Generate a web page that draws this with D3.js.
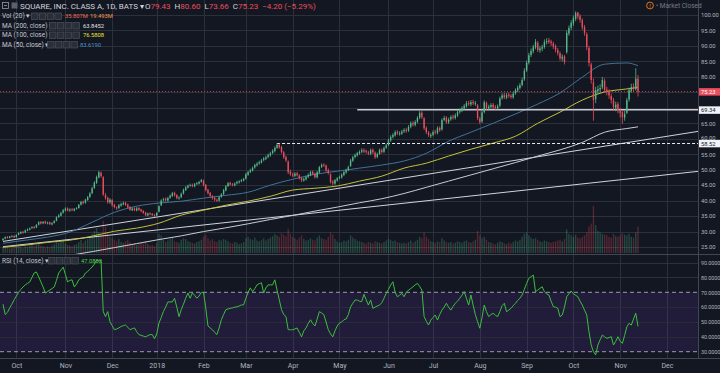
<!DOCTYPE html>
<html>
<head>
<meta charset="utf-8">
<script src="https://cdnjs.cloudflare.com/ajax/libs/d3/7.8.5/d3.min.js"></script>
<style>
  html, body { margin: 0; padding: 0; background: #131722; overflow: hidden; }
  svg { display: block; font-family: Roboto, "Liberation Sans", Arial, sans-serif; }
</style>
</head>
<body>
<div id="chart"></div>
<script>
// Daily bars (one value per trading day)
const opens = [27.2,27.7,28.3,27.9,28.3,28.6,28.2,29.0,29.4,29.9,
29.7,30.3,30.6,31.1,31.5,31.3,32.2,33.1,32.7,33.2,
32.6,33.0,32.3,32.8,33.5,34.7,35.1,36.1,36.8,37.5,
36.7,37.2,36.8,37.4,37.6,38.7,39.6,39.3,40.2,41.2,
42.4,44.1,45.7,47.5,49.0,47.5,41.8,40.9,39.4,40.2,
38.6,37.8,37.6,38.4,38.8,39.3,38.7,37.9,36.9,37.5,
36.8,37.6,37.1,36.7,36.1,35.2,35.9,35.7,35.4,35.2,
36.4,38.5,40.1,40.6,40.0,40.9,41.5,42.5,41.8,40.7,
41.1,42.3,43.4,44.2,44.9,45.1,44.6,45.4,45.5,46.1,
46.4,45.1,43.5,42.5,41.4,40.9,40.2,40.0,41.2,42.1,
43.3,44.7,45.7,45.3,44.9,45.6,45.9,46.3,46.5,47.1,
48.4,49.3,49.7,50.7,51.4,52.0,52.3,53.1,53.5,54.1,
54.6,55.4,56.0,57.1,58.1,57.3,55.6,54.1,52.6,49.4,
48.4,48.0,48.8,48.1,47.3,46.5,46.9,47.7,48.2,49.3,
48.7,47.5,49.1,50.9,51.6,51.3,49.9,48.5,46.1,45.5,
46.5,47.3,47.5,48.3,49.1,49.9,51.2,52.9,54.1,54.6,
55.2,55.8,56.4,56.0,55.6,55.1,56.4,55.5,54.1,55.1,
56.4,55.8,57.1,58.0,59.4,60.6,61.1,62.2,61.5,61.7,
62.4,62.9,62.6,63.9,65.1,64.5,65.5,66.8,68.4,66.6,
63.5,62.0,60.8,61.3,62.3,61.9,63.5,63.0,66.1,66.8,
65.3,66.3,67.2,66.7,67.5,68.7,69.1,69.8,70.5,71.6,
71.1,71.9,71.2,70.8,66.5,65.6,68.7,71.6,69.8,70.3,
71.0,70.3,69.8,70.7,73.1,74.1,73.3,74.3,73.9,73.4,
74.7,75.6,76.4,77.4,79.2,82.1,84.6,87.1,88.3,89.5,
91.0,88.6,89.1,89.7,91.2,91.8,91.4,90.8,89.9,88.6,
87.6,85.9,86.6,88.0,94.0,95.9,97.3,98.8,100.8,99.6,
98.3,96.1,93.8,89.4,84.0,78.2,72.8,75.4,75.9,76.6,
78.8,75.9,75.3,73.8,72.4,70.0,71.2,69.0,68.5,66.8,
68.4,72.7,75.5,76.9,76.0,79.43];

const highs = [27.9,28.4,28.5,28.6,28.8,28.8,29.1,29.7,30.1,30.2,
30.6,31.0,31.3,31.7,31.8,32.4,33.3,33.4,33.4,33.5,
33.2,33.2,33.0,33.7,34.9,35.6,36.4,37.3,37.8,37.8,
37.5,37.6,37.6,37.9,38.9,39.9,40.0,40.6,41.5,42.7,
44.5,46.3,48.1,49.6,49.4,47.9,42.5,41.3,40.8,40.5,
39.0,38.2,38.9,39.3,39.7,39.6,39.0,38.2,37.8,37.8,
37.9,37.9,37.4,36.9,36.4,36.1,36.2,36.0,35.7,36.3,
38.5,40.4,40.9,41.0,41.2,42.0,42.8,42.9,42.1,41.4,
42.6,43.9,44.7,45.2,45.5,45.5,45.7,46.0,46.4,47.0,
46.8,45.4,43.8,42.8,41.8,41.2,40.7,41.5,42.4,43.8,
45.0,46.0,46.1,45.7,45.9,46.4,46.6,47.0,47.4,48.9,
49.6,50.3,51.0,51.9,52.4,52.9,53.5,54.1,54.5,55.2,
55.8,56.6,57.5,58.6,58.5,57.7,56.0,54.6,53.0,50.0,
49.0,49.2,49.3,48.5,47.7,47.5,48.0,48.8,49.6,49.7,
49.0,49.6,51.2,52.0,52.1,51.7,50.4,48.8,46.6,47.0,
47.6,48.1,48.8,49.6,50.3,51.3,53.5,54.5,55.2,55.8,
56.3,56.9,56.9,56.5,56.1,56.8,56.9,55.9,55.5,56.8,
56.9,57.5,58.4,60.0,61.1,61.8,62.7,62.8,62.4,62.9,
63.4,63.5,64.4,65.6,65.7,66.0,67.3,68.9,68.9,67.0,
64.0,62.5,61.8,62.7,62.9,64.0,64.0,66.6,67.4,67.3,
66.8,67.6,67.8,68.2,69.2,69.8,70.5,71.2,72.2,72.3,
72.5,72.6,72.2,71.2,67.1,69.0,72.4,72.0,71.0,71.5,
71.6,70.9,71.1,73.6,74.7,74.8,74.8,74.9,74.5,75.2,
76.3,77.2,78.0,79.7,82.8,85.3,87.8,89.2,90.4,92.2,
91.6,90.0,90.4,92.1,92.5,92.6,92.0,91.4,90.5,89.3,
88.2,87.3,87.0,95.0,96.6,98.3,99.8,101.2,101.0,100.3,
98.9,96.8,94.4,90.0,84.6,79.5,76.8,77.2,77.6,80.0,
79.5,76.8,76.0,74.6,73.2,72.0,71.9,70.0,69.2,69.0,
73.2,76.5,77.8,77.9,82.8,80.60];

const lows = [27.0,27.5,27.7,27.8,28.1,27.9,28.0,28.8,29.2,29.3,
29.5,30.1,30.4,30.9,30.9,31.1,32.0,32.3,32.4,32.4,
32.3,32.1,32.0,32.6,33.3,34.4,34.9,35.8,36.5,36.5,
36.4,36.6,36.5,37.1,37.4,38.4,38.8,39.0,39.9,40.9,
42.1,43.8,45.4,47.2,47.4,41.5,40.3,39.0,39.0,38.1,
37.5,37.0,37.3,38.0,38.5,38.3,37.5,36.7,36.6,36.6,
36.5,36.7,36.2,35.7,35.0,34.9,35.3,35.0,34.8,35.0,
36.2,38.2,39.7,39.7,39.7,40.6,41.2,41.3,40.4,40.3,
40.8,42.0,43.1,43.9,44.5,44.3,44.3,45.0,45.2,45.8,
44.6,43.0,42.0,41.0,40.3,39.8,39.6,39.7,40.9,41.8,
43.0,44.4,44.8,44.6,44.6,45.2,45.5,45.9,46.2,46.8,
48.0,48.9,49.4,50.3,51.0,51.6,52.0,52.7,53.1,53.7,
54.2,55.0,55.6,56.7,56.8,55.2,53.5,52.5,48.6,48.0,
47.6,47.6,47.8,46.8,46.0,46.1,46.5,47.3,47.9,48.2,
47.1,47.2,48.8,50.5,50.9,49.3,48.4,45.5,45.0,45.1,
46.1,46.9,47.1,47.9,48.7,49.5,50.9,52.5,53.6,54.2,
54.8,55.3,55.4,55.2,54.7,54.7,55.1,53.5,53.7,54.8,
55.2,55.4,56.7,57.6,59.0,60.1,60.7,61.2,61.0,61.2,
61.9,61.9,62.2,63.4,64.0,64.0,65.0,66.3,66.4,62.8,
61.5,60.6,60.2,60.8,61.4,61.4,62.2,62.6,65.6,64.8,
64.8,65.8,66.2,66.2,67.0,68.1,68.6,69.3,70.0,70.6,
70.5,70.9,70.6,66.0,64.7,65.1,68.2,69.3,69.2,69.8,
69.6,69.3,69.3,70.2,72.6,72.8,72.8,73.2,72.9,72.9,
74.2,75.1,75.9,76.9,78.7,81.6,84.0,86.4,87.6,88.9,
88.0,87.8,88.3,89.1,90.5,90.6,90.0,89.0,87.9,86.9,
85.2,85.0,84.0,87.5,93.3,95.1,96.5,98.0,98.6,97.5,
95.2,93.3,88.6,83.4,77.8,65.8,71.5,74.4,74.9,76.0,
74.8,74.0,72.9,71.4,69.0,68.9,68.2,66.8,64.8,65.8,
68.0,72.0,74.9,75.3,75.6,73.66];

const closes = [27.6,28.2,27.9,28.4,28.5,28.1,28.9,29.5,29.8,29.6,
30.4,30.7,31.0,31.4,31.2,32.1,33.0,32.6,33.1,32.7,
32.9,32.4,32.7,33.4,34.6,35.2,36.0,36.9,37.4,36.8,
37.1,36.9,37.3,37.5,38.6,39.5,39.2,40.3,41.1,42.3,
44.0,45.8,47.6,49.2,47.9,42.0,40.8,39.5,40.3,38.5,
37.9,37.5,38.5,38.9,39.2,38.6,37.8,37.0,37.4,36.9,
37.5,37.0,36.6,36.0,35.3,35.8,35.6,35.3,35.1,36.0,
38.2,40.0,40.4,40.1,40.8,41.6,42.4,41.7,40.8,41.0,
42.2,43.5,44.3,44.8,45.0,44.7,45.3,45.6,46.0,46.6,
45.0,43.4,42.4,41.5,40.8,40.3,40.1,41.1,42.0,43.4,
44.6,45.6,45.2,45.0,45.5,46.0,46.2,46.6,47.0,48.5,
49.2,49.8,50.6,51.5,51.9,52.4,53.0,53.6,54.0,54.7,
55.3,56.1,57.0,58.0,57.2,55.7,54.0,53.0,49.2,48.5,
48.2,48.7,48.2,47.2,46.6,47.0,47.6,48.3,49.2,48.6,
47.6,49.2,50.8,51.5,51.4,49.8,48.9,46.0,45.6,46.6,
47.2,47.6,48.4,49.2,49.8,50.8,53.0,54.0,54.7,55.3,
55.7,56.3,55.9,55.7,55.2,56.3,55.6,54.0,55.0,56.3,
55.7,57.0,57.9,59.5,60.5,61.2,62.1,61.8,61.8,62.3,
62.8,62.5,63.8,65.0,64.6,65.4,66.7,68.3,67.0,63.4,
62.1,61.2,61.2,62.1,62.0,63.4,62.8,66.0,66.7,65.4,
66.2,67.0,66.8,67.6,68.6,69.2,69.9,70.6,71.5,71.2,
71.8,71.5,71.5,66.7,65.4,68.5,71.8,69.9,70.4,70.9,
70.2,69.9,70.5,73.0,74.0,73.4,74.1,73.8,73.5,74.6,
75.7,76.5,77.3,79.0,82.0,84.5,87.0,88.4,89.6,91.3,
88.7,89.2,89.6,91.3,91.6,91.3,90.9,89.8,88.7,87.7,
86.0,86.5,84.8,94.2,95.8,97.4,99.0,100.6,99.5,98.4,
96.0,94.2,89.6,84.5,79.0,72.5,75.7,76.0,76.4,79.0,
75.7,75.1,74.0,72.5,70.2,71.0,69.3,68.3,67.0,68.0,
72.5,75.7,76.7,76.2,79.4,75.23];

// Volume, millions
const volumes = [8,7,9,6,7,8,10,9,8,7,
9,8,10,12,9,11,14,10,9,8,
9,8,10,12,15,14,16,18,13,11,
10,9,11,12,15,18,14,17,19,22,
26,30,34,28,25,44,36,27,22,20,
18,16,19,15,14,16,18,15,12,13,
11,12,14,13,16,12,10,11,9,14,
26,24,18,15,17,19,21,16,15,14,
18,20,19,16,15,14,13,15,16,18,
22,25,20,17,19,16,15,18,17,19,
18,16,14,13,15,14,12,13,15,20,
22,19,18,21,17,16,18,20,17,19,
21,23,26,24,22,27,25,23,33,26,
22,20,18,21,24,19,17,18,20,18,
17,21,24,20,19,18,22,28,25,19,
16,14,15,17,16,18,24,21,19,17,
16,15,14,13,15,14,13,16,15,14,
13,15,17,19,18,16,17,15,14,13,
14,13,15,17,14,16,18,22,20,28,
22,19,16,15,14,16,15,20,17,15,
14,15,13,14,16,15,14,16,17,15,
14,16,18,30,24,20,22,18,15,14,
13,12,14,16,15,13,12,14,13,15,
17,16,18,22,26,28,24,21,19,20,
18,16,15,17,16,15,14,15,16,17,
18,16,19,32,26,24,22,25,21,20,
22,24,28,36,40,64,38,30,28,26,
25,24,22,21,26,23,22,24,27,25,
24,26,22,21,28,35.807];

// RSI (14, close) as drawn in the lower pane
const rsiValues = [62,55,56.5,59.5,62,65,67.5,70,72,73.6,
75,76,77,80,83,83.7,80.4,77,73.6,69.5,
70.5,71.5,72.5,73.6,78,83,85,87,82,77,
78,78.4,73.6,75.5,78.4,79.5,80.4,83,84,85.5,
87,89,91.6,91,91.6,57,53.6,57,50.2,47.5,
44.8,45.3,46,47,47.5,48,46.5,44.8,45.5,46,
43.5,41.5,41,40.5,40,40.8,41.5,41.5,38.7,42,
49.3,53,57,60,63.5,63.5,63.5,66,60,53.6,
58.3,62,66,69.5,66,69.5,68,66,67.5,70,
70,59.5,47.3,46,44.8,43,41.5,46,51.5,55,
58.3,58.8,59.2,59.5,60,60.2,60.8,61.5,61.5,66,
70,73,70.4,72.5,75,75.8,76.4,69.5,73,75,
75,75,78.4,71.5,65,58.3,55,53.6,44.8,44.8,
44.8,45.3,46,43,40,44,46,49,51.5,49,
47.3,52,57,56,55,50,44.8,42,40,44,
47.3,49.3,50,51.5,52,55,60.2,62.6,64.8,64.8,
64,63.7,68.6,65,61.4,64.8,59.2,60,60.8,61.4,
63,66,69.3,72,74.9,77.1,70,67,68,69.3,
67,70,71.5,72.5,73.7,75,76,74,71.5,53.6,
50.5,48,51.3,53,54.7,51.3,55,58,60,62.6,
60,58,60.5,62.6,64,66,68,70.4,66,61.4,
68.2,61.4,55,50.2,45.8,53,61.4,57,53.6,55,
55.9,54.5,53.6,57,61,62.6,56.9,58,59.2,61,
62.6,64.5,66,68.2,72,76,79.4,80.5,81.6,70.4,
71.5,72.7,73.7,70.4,69,68.2,64,60.3,60,59.2,
53.6,54.7,60,67,69,70.9,69,68,67,64,
61.4,58,54.7,43.5,34.5,30,27.8,34.5,38,41.2,
40,39,39.5,40.1,34.5,37,40.1,37,35.6,41,
46.8,49.1,47.9,52,55.9,47.08];

// Moving averages read at every 10th bar
const maIndex = [0,10,20,30,40,50,60,70,80,90,100,110,120,130,140,150,160,170,180,190,200,210,220,230,240,250,260,270,280,285];
const ma50 = [26.2,27.2,28.2,29.8,33.0,36.2,38.2,39.2,39.8,40.8,41.7,42.7,45.0,46.9,48.5,49.5,50.5,51.5,52.8,55.3,59.2,62.1,65.0,68.0,71.2,74.8,79.9,84.1,84.5,83.62];
const ma100 = [24.9,25.6,26.5,27.2,28.5,30.1,31.1,32.7,35.3,36.9,38.5,39.8,41.4,43.4,44.0,44.7,46.3,47.9,50.5,52.1,54.4,56.6,58.6,60.8,65.0,68.6,72.5,75.1,76.1,76.58];
const ma200 = [18.4,19.7,21.0,22.3,23.5,24.8,26.1,27.4,28.6,30.0,31.2,32.5,33.9,35.2,36.6,37.9,39.3,40.6,42.3,44.3,46.3,48.3,50.3,52.3,54.4,56.4,58.8,62.1,63.3,63.85];

// Drawn trend lines [barIndex, price] and horizontal levels
const trendA = [[0, 26.8], [285, 59.3]];
const trendB = [[0, 25.1], [285, 47.35]];
const levelPrices = [69.34, 58.52];
const levelStart = [159, 123];
const lastPrice = 75.23;

// Axis ticks
const priceTicks = [25, 30, 35, 40, 45, 50, 55, 60, 65, 70, 75, 80, 85, 90, 95, 100];
const rsiTicks = [30, 40, 50, 60, 70, 80, 90];
const tickIndex = [6, 28, 49, 69, 90, 109, 130, 151, 173, 193, 214, 235, 256, 277, 298];
const tickLabels = ["Oct", "Nov", "Dec", "2018", "Feb", "Mar", "Apr", "May", "Jun", "Jul", "Aug", "Sep", "Oct", "Nov", "Dec"];

const width = 720, height = 373;
const plotRight = 698;
const priceBottom = 254, rsiTop = 255, rsiBottom = 358;

const upColor = "#53b987", downColor = "#eb4d5c";
const gridColor = "#2c303b";
const textColor = "#b2b5be";

const svg = d3.select("#chart").append("svg")
    .attr("width", width)
    .attr("height", height);

svg.append("rect").attr("width", width).attr("height", height).attr("fill", "#131722");

const defs = svg.append("defs");
defs.append("clipPath").attr("id", "priceClip")
    .append("rect").attr("x", 0).attr("y", 0).attr("width", plotRight).attr("height", priceBottom);
defs.append("clipPath").attr("id", "rsiClip")
    .append("rect").attr("x", 0).attr("y", rsiTop).attr("width", plotRight).attr("height", rsiBottom - rsiTop);

// Scales
const x = d3.scaleLinear().domain([0, closes.length - 1]).range([3, 638]);
const y = d3.scaleLinear().domain([25, 100]).range([247, 15]);
const yVol = d3.scaleLinear().domain([0, 64]).range([253, 206]);
const yRsi = d3.scaleLinear().domain([30, 70]).range([351.7, 292.3]);
const bodyW = (x(1) - x(0)) * 0.62;

// Function to draw gridlines
function drawGrid() {
    const g = svg.append("g").attr("stroke", gridColor).attr("stroke-width", 1);
    g.selectAll(".vgrid").data(tickIndex).enter().append("line")
        .attr("x1", d => Math.round(x(d)) + 0.5).attr("x2", d => Math.round(x(d)) + 0.5)
        .attr("y1", 0).attr("y2", rsiBottom);
    g.selectAll(".hgrid").data(priceTicks).enter().append("line")
        .attr("x1", 0).attr("x2", plotRight)
        .attr("y1", d => Math.round(y(d)) + 0.5).attr("y2", d => Math.round(y(d)) + 0.5);

    // RSI band between 30 and 70
    svg.append("rect")
        .attr("x", 0).attr("width", plotRight)
        .attr("y", yRsi(70)).attr("height", yRsi(30) - yRsi(70))
        .attr("fill", "#7e3fd6").attr("fill-opacity", 0.13);

    svg.append("g").attr("stroke", gridColor).attr("stroke-width", 1)
        .selectAll("line").data(rsiTicks.filter(d => d !== 30 && d !== 70)).enter().append("line")
        .attr("x1", 0).attr("x2", plotRight)
        .attr("y1", d => Math.round(yRsi(d)) + 0.5).attr("y2", d => Math.round(yRsi(d)) + 0.5)
        .attr("stroke-opacity", d => (d > 70 ? 1 : 0.8));

    svg.append("g").selectAll("line").data([70, 30]).enter().append("line")
        .attr("x1", 0).attr("x2", plotRight)
        .attr("y1", d => yRsi(d)).attr("y2", d => yRsi(d))
        .attr("stroke", "#9d97b6").attr("stroke-dasharray", "4,3").attr("stroke-width", 1);
}

// Function to draw volume bars
function drawVolume(layer) {
    layer.append("g").selectAll("rect").data(volumes).enter().append("rect")
        .attr("x", (d, i) => x(i) - bodyW / 2)
        .attr("width", bodyW)
        .attr("y", d => yVol(d))
        .attr("height", d => yVol(0) - yVol(d))
        .attr("fill", (d, i) => closes[i] >= opens[i] ? upColor : downColor)
        .attr("fill-opacity", 0.3);
}

// Function to draw trend lines, levels and moving averages
function drawOverlays(layer) {
    const xEnd = x.invert(plotRight);
    [trendA, trendB].forEach(t => {
        const slope = (t[1][1] - t[0][1]) / (t[1][0] - t[0][0]);
        const endPrice = t[0][1] + slope * (xEnd - t[0][0]);
        layer.append("line")
            .attr("x1", x(t[0][0])).attr("y1", y(t[0][1]))
            .attr("x2", plotRight).attr("y2", y(endPrice))
            .attr("stroke", "#d1d4dc").attr("stroke-width", 1);
    });

    const maLine = d3.line()
        .x(d => x(d[0]))
        .y(d => y(d[1]))
        .curve(d3.curveMonotoneX);

    layer.append("path").datum(d3.zip(maIndex, ma200))
        .attr("d", maLine).attr("fill", "none").attr("stroke", "#c9cbd1").attr("stroke-width", 1);
    layer.append("path").datum(d3.zip(maIndex, ma100))
        .attr("d", maLine).attr("fill", "none").attr("stroke", "#c3c13a").attr("stroke-width", 1);
    layer.append("path").datum(d3.zip(maIndex, ma50))
        .attr("d", maLine).attr("fill", "none").attr("stroke", "#3f7397").attr("stroke-width", 1);

    // Last price dotted line
    layer.append("line")
        .attr("x1", 0).attr("x2", plotRight)
        .attr("y1", y(lastPrice)).attr("y2", y(lastPrice))
        .attr("stroke", downColor).attr("stroke-opacity", 0.8)
        .attr("stroke-dasharray", "1,2");

    // Horizontal levels
    layer.append("line")
        .attr("x1", x(levelStart[0])).attr("x2", plotRight)
        .attr("y1", y(levelPrices[0])).attr("y2", y(levelPrices[0]))
        .attr("stroke", "#c8cad0").attr("stroke-width", 1.5);
    layer.append("line")
        .attr("x1", x(levelStart[1])).attr("x2", plotRight)
        .attr("y1", Math.round(y(levelPrices[1])) + 0.5).attr("y2", Math.round(y(levelPrices[1])) + 0.5)
        .attr("stroke", "#e8e9ed").attr("stroke-width", 1)
        .attr("stroke-dasharray", "3,2");
}

// Function to draw the candles
function drawCandles(layer) {
    const idx = d3.range(closes.length);
    const color = i => closes[i] >= opens[i] ? upColor : downColor;

    layer.append("g").selectAll("line").data(idx).enter().append("line")
        .attr("x1", i => x(i)).attr("x2", i => x(i))
        .attr("y1", i => y(highs[i])).attr("y2", i => y(lows[i]))
        .attr("stroke", color).attr("stroke-width", 0.8);

    layer.append("g").selectAll("rect").data(idx).enter().append("rect")
        .attr("x", i => x(i) - bodyW / 2)
        .attr("width", bodyW)
        .attr("y", i => y(Math.max(opens[i], closes[i])))
        .attr("height", i => Math.max(0.8, Math.abs(y(opens[i]) - y(closes[i]))))
        .attr("fill", color);
}

// Function to draw the RSI line
function drawRsi() {
    const layer = svg.append("g").attr("clip-path", "url(#rsiClip)");
    const line = d3.line()
        .x((d, i) => x(i))
        .y(d => yRsi(d));
    layer.append("path").datum(rsiValues)
        .attr("d", line)
        .attr("fill", "none")
        .attr("stroke", "#3cbf3c")
        .attr("stroke-width", 1);
}

// Function to draw axes and pane borders
function drawAxes() {
    const tagValues = [lastPrice].concat(levelPrices);
    // labels hidden behind the price tags are left out
    const visibleTicks = priceTicks.filter(p => tagValues.every(v => Math.abs(y(p) - y(v)) > 4.5));

    const priceAxis = d3.axisRight(y).tickValues(visibleTicks).tickFormat(d3.format(".2f")).tickSize(0).tickPadding(3);
    const gp = svg.append("g").attr("transform", `translate(${plotRight},0)`).call(priceAxis);
    gp.select(".domain").remove();
    gp.selectAll("text").attr("fill", textColor).style("font-size", "5.8px").style("font-family", "Roboto, sans-serif");
    // nudge the 60.00 label clear of the 58.52 tag
    gp.selectAll("text").filter(d => d === 60).attr("dy", "0.05em");

    const rsiAxis = d3.axisRight(yRsi).tickValues(rsiTicks).tickFormat(d3.format(".4f")).tickSize(0).tickPadding(3);
    const gr = svg.append("g").attr("transform", `translate(${plotRight},0)`).call(rsiAxis);
    gr.select(".domain").remove();
    gr.selectAll("text").attr("fill", textColor).style("font-size", "5.3px").style("font-family", "Roboto, sans-serif");

    const timeAxis = d3.axisBottom(x).tickValues(tickIndex).tickFormat((d, i) => tickLabels[i]).tickSize(0).tickPadding(5);
    const gt = svg.append("g").attr("transform", `translate(0,${rsiBottom})`).call(timeAxis);
    gt.select(".domain").remove();
    gt.selectAll("text").attr("fill", textColor).style("font-size", "7px").style("font-family", "Roboto, sans-serif");

    const borders = svg.append("g").attr("stroke", "#434651").attr("stroke-width", 1);
    borders.append("line").attr("x1", plotRight + 0.5).attr("x2", plotRight + 0.5).attr("y1", 0).attr("y2", rsiBottom);
    borders.append("line").attr("x1", 0).attr("x2", width).attr("y1", priceBottom + 0.5).attr("y2", priceBottom + 0.5);
    borders.append("line").attr("x1", 0).attr("x2", width).attr("y1", rsiBottom + 0.5).attr("y2", rsiBottom + 0.5);

    // Price labels on the axis
    const tags = [
        {v: lastPrice, fill: downColor, text: "#ffffff"},
        {v: levelPrices[0], fill: "#f0f3fa", text: "#131722"},
        {v: levelPrices[1], fill: "#f0f3fa", text: "#131722"}
    ];
    const gTags = svg.append("g");
    gTags.selectAll("rect").data(tags).enter().append("rect")
        .attr("x", plotRight + 1).attr("width", width - plotRight - 1)
        .attr("y", d => y(d.v) - 3.5).attr("height", 7.5)
        .attr("fill", d => d.fill);
    gTags.selectAll("text").data(tags).enter().append("text")
        .attr("x", plotRight + 3).attr("y", d => y(d.v) + 2.5)
        .attr("fill", d => d.text)
        .style("font-size", "5.8px")
        .text(d => d.v.toFixed(2));
}

// Function to draw a row of legend buttons
function legendButtons(x0, yc) {
    const g = svg.append("g");
    for (let k = 0; k < 4; k++) {
        g.append("rect")
            .attr("x", x0 + k * 7.8 + 0.5).attr("y", yc - 3.5 + 0.5)
            .attr("width", 6.5).attr("height", 6.5)
            .attr("fill", "#2a2e39").attr("stroke", "#4c505b").attr("stroke-width", 0.7);
    }
}

// Function to draw the header and legends
function drawLegend() {
    const g = svg.append("g").style("font-size", "6.5px");

    // Symbol line
    svg.append("rect").attr("x", 2.5).attr("y", 2.5).attr("width", 6).attr("height", 6)
        .attr("fill", "none").attr("stroke", "#9598a1").attr("stroke-width", 0.8);
    svg.append("line").attr("x1", 4).attr("x2", 7).attr("y1", 5.5).attr("y2", 5.5)
        .attr("stroke", "#9598a1").attr("stroke-width", 0.8);
    svg.append("rect").attr("x", 11.5).attr("y", 2.5).attr("width", 6).attr("height", 6)
        .attr("fill", "#5d606b");

    svg.append("text").attr("x", 20).attr("y", 8.8)
        .attr("fill", "#d1d4dc").style("font-size", "8px")
        .text("SQUARE, INC. CLASS A, 1D, BATS \u25BE");

    const ohlc = svg.append("text").attr("x", 145).attr("y", 8.8).style("font-size", "8px");
    [["O", "79.43"], ["H", "80.60"], ["L", "73.66"], ["C", "75.23"]].forEach((p, k) => {
        ohlc.append("tspan").attr("dx", k === 0 ? 0 : 4).attr("fill", "#d1d4dc").text(p[0]);
        ohlc.append("tspan").attr("fill", downColor).text(p[1]);
    });
    ohlc.append("tspan").attr("dx", 4).attr("fill", downColor).text("\u22124.20 (\u22125.29%)");

    // Market status
    svg.append("circle").attr("cx", 650).attr("cy", 5.5).attr("r", 3.4)
        .attr("fill", "none").attr("stroke", "#f57f17").attr("stroke-width", 0.9);
    svg.append("text").attr("x", 650).attr("y", 7.8).attr("text-anchor", "middle")
        .attr("fill", "#f57f17").style("font-size", "6px").text("!");
    svg.append("text").attr("x", 656).attr("y", 8.2)
        .attr("fill", "#787b86").style("font-size", "6.5px").text("\u2022 Market Closed");

    // Indicator legends
    const rows = [
        {label: "Vol (20) \u25BE", y: 16, bx: 31, values: [["35.807M", "#ef6b5b", 65], ["19.493M", "#f39c4f", 90]]},
        {label: "MA (200, close) \u25BE", y: 25.5, bx: 49, values: [["63.8452", "#e0e3eb", 83]]},
        {label: "MA (100, close) \u25BE", y: 35, bx: 49, values: [["76.5808", "#ece33a", 83]]},
        {label: "MA (50, close) \u25BE", y: 44.5, bx: 47, values: [["83.6190", "#4d8fc4", 80]]},
        {label: "RSI (14, close) \u25BE", y: 260.5, bx: 48, values: [["47.0802", "#4cd24c", 81]]}
    ];
    rows.forEach(r => {
        g.append("text").attr("x", 2).attr("y", r.y + 2.3).attr("fill", "#c3c6ce").text(r.label);
        legendButtons(r.bx, r.y);
        r.values.forEach(v => {
            g.append("text").attr("x", v[2]).attr("y", r.y + 2.2).attr("fill", v[1])
                .style("font-size", "5.8px").text(v[0]);
        });
    });
}

drawGrid();
const priceLayer = svg.append("g").attr("clip-path", "url(#priceClip)");
drawVolume(priceLayer);
drawOverlays(priceLayer);
drawCandles(priceLayer);
drawRsi();
drawAxes();
drawLegend();
</script>
</body>
</html>
